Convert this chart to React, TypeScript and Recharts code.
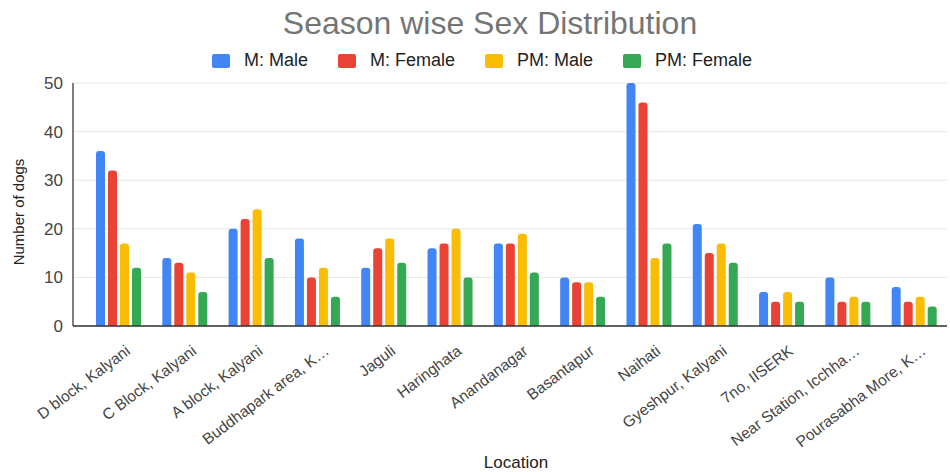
import React from 'react';
import { Bar, BarChart, CartesianGrid, Legend, XAxis, YAxis } from 'recharts';

const locations = [
  'D block, Kalyani',
  'C Block, Kalyani',
  'A block, Kalyani',
  'Buddhapark area, K…',
  'Jaguli',
  'Haringhata',
  'Anandanagar',
  'Basantapur',
  'Naihati',
  'Gyeshpur, Kalyani',
  '7no, IISERK',
  'Near Station, Icchha…',
  'Pourasabha More, K…',
];

const mMale = [36, 14, 20, 18, 12, 16, 17, 10, 50, 21, 7, 10, 8];
const mFemale = [32, 13, 22, 10, 16, 17, 17, 9, 46, 15, 5, 5, 5];
const pmMale = [17, 11, 24, 12, 18, 20, 19, 9, 14, 17, 7, 6, 6];
const pmFemale = [12, 7, 14, 6, 13, 10, 11, 6, 17, 13, 5, 5, 4];

const yTicks = [0, 10, 20, 30, 40, 50];

const series = [
  { key: 'mMale', name: 'M: Male', color: '#4285F4' },
  { key: 'mFemale', name: 'M: Female', color: '#EA4335' },
  { key: 'pmMale', name: 'PM: Male', color: '#FBBC04' },
  { key: 'pmFemale', name: 'PM: Female', color: '#34A853' },
];

const data = locations.map((location, i) => ({
  location,
  mMale: mMale[i],
  mFemale: mFemale[i],
  pmMale: pmMale[i],
  pmFemale: pmFemale[i],
}));

const FONT = '"Liberation Sans", Arial, sans-serif';

//#region  //*=========== Custom pieces ===========
const AngledTick = ({ x, y, payload }: any) => (
  <g transform={`translate(${x},${y})`}>
    <text
      transform='translate(13,19) rotate(-37)'
      textAnchor='end'
      fill='#444'
      fontSize={15.5}
      fontFamily={FONT}
    >
      {payload.value}
    </text>
  </g>
);

const LegendRow = () => (
  <div
    style={{
      display: 'flex',
      justifyContent: 'center',
      paddingLeft: 44,
      fontFamily: FONT,
      fontSize: 18,
      color: '#222',
    }}
  >
    {series.map((s) => (
      <div
        key={s.key}
        style={{ display: 'flex', alignItems: 'center', marginRight: 30 }}
      >
        <span
          style={{
            width: 18,
            height: 14,
            borderRadius: 2,
            background: s.color,
            marginRight: 14,
          }}
        />
        {s.name}
      </div>
    ))}
  </div>
);
//#endregion  //*======== Custom pieces ===========

export default function App() {
  return (
    <div style={{ position: 'absolute', left: 0, top: 0, width: 950, height: 472 }}>
      <div
        style={{
          position: 'absolute',
          left: 0,
          top: 5,
          width: 980,
          textAlign: 'center',
          fontFamily: FONT,
          fontSize: 32,
          color: '#757575',
        }}
      >
        Season wise Sex Distribution
      </div>
      <BarChart
        width={950}
        height={472}
        data={data}
        margin={{ top: 62, right: 3, left: 0, bottom: 0 }}
        barSize={9}
        barGap={3}
      >
        <CartesianGrid vertical={false} stroke='#e6e6e6' />
        <XAxis
          dataKey='location'
          height={146}
          interval={0}
          padding={{ left: 12, right: 0 }}
          tickLine={false}
          axisLine={{ stroke: '#333', strokeWidth: 1.5 }}
          tick={<AngledTick />}
          label={{
            content: () => (
              <text
                x={516}
                y={468}
                textAnchor='middle'
                fontSize={17}
                fontFamily={FONT}
                fill='#222'
              >
                Location
              </text>
            ),
          }}
        />
        <YAxis
          width={73}
          domain={[0, 50]}
          ticks={yTicks}
          interval={0}
          tickLine={false}
          tickMargin={4}
          axisLine={{ stroke: '#000' }}
          tick={{ fontSize: 17, fill: '#444', fontFamily: FONT }}
          label={{
            content: () => (
              <text
                x={24}
                y={212}
                transform='rotate(-90, 24, 212)'
                textAnchor='middle'
                fontSize={15}
                fontFamily={FONT}
                fill='#222'
              >
                Number of dogs
              </text>
            ),
          }}
        />
        <Legend
          verticalAlign='top'
          wrapperStyle={{ top: 50, left: 0, width: 950 }}
          content={<LegendRow />}
        />

        {series.map((s) => (
          <Bar
            key={s.key}
            dataKey={s.key}
            name={s.name}
            fill={s.color}
            radius={[3, 3, 0, 0]}
            isAnimationActive={false}
          />
        ))}
      </BarChart>
    </div>
  );
}
